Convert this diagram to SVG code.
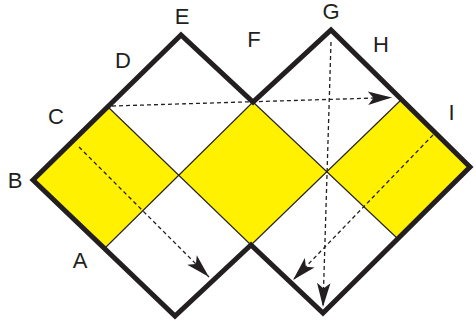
<svg xmlns="http://www.w3.org/2000/svg" width="476" height="324" viewBox="0 0 476 324">
<style>
.y{fill:#fff100;stroke:none}
.thin{fill:none;stroke:#231f20;stroke-width:1.1}
.out{fill:none;stroke:#231f20;stroke-width:5;stroke-linejoin:miter;stroke-miterlimit:10}
.dash{fill:none;stroke:#231f20;stroke-width:1.3;stroke-dasharray:4 3;marker-end:url(#ah)}
.lbl{font-family:"Liberation Sans",Arial,sans-serif;font-size:22px;fill:#231f20;text-anchor:middle}
</style>
<defs>
<marker id="ah" markerUnits="userSpaceOnUse" markerWidth="25" markerHeight="14" refX="24" refY="6.75" orient="auto" overflow="visible">
<path d="M24,6.75 Q12,3.5 0,0 L5.5,6.75 L0,13.5 Q12,10 24,6.75 Z" fill="#231f20"/>
</marker>
</defs>
<rect width="476" height="324" fill="#ffffff"/>
<g id="yellow-left"><polygon class="y" points="33,180 107,106 179,175 104,249"/></g>
<g id="yellow-middle"><polygon class="y" points="253,102 327,172 251,245 179,175"/></g>
<g id="yellow-right"><polygon class="y" points="402,99 470,167 398,239 327,172"/></g>
<g id="grid">
<line class="thin" x1="107" y1="106" x2="251" y2="245"/>
<line class="thin" x1="104" y1="249" x2="253" y2="102"/>
<line class="thin" x1="253" y1="102" x2="398" y2="239"/>
<line class="thin" x1="251" y1="245" x2="402" y2="99"/>
</g>
<g id="connectors">
<line class="dash" x1="79" y1="147" x2="209" y2="277"/>
<line class="dash" x1="112" y1="106" x2="392" y2="97.5"/>
<line class="dash" x1="331" y1="42" x2="323" y2="307"/>
<line class="dash" x1="433" y1="135" x2="293" y2="280"/>
</g>
<g id="outline">
<polygon class="out" points="33,180 181,35 253,102 331,30 470,167 323,313 251,245 175,316"/>
</g>
<g id="labels">
<text class="lbl" x="182" y="24">E</text>
<text class="lbl" x="123" y="68">D</text>
<text class="lbl" x="56" y="124">C</text>
<text class="lbl" x="15" y="188">B</text>
<text class="lbl" x="80" y="268">A</text>
<text class="lbl" x="254" y="46.5">F</text>
<text class="lbl" x="331" y="19">G</text>
<text class="lbl" x="381" y="51.5">H</text>
<text class="lbl" x="451.5" y="120">I</text>
</g>
</svg>
